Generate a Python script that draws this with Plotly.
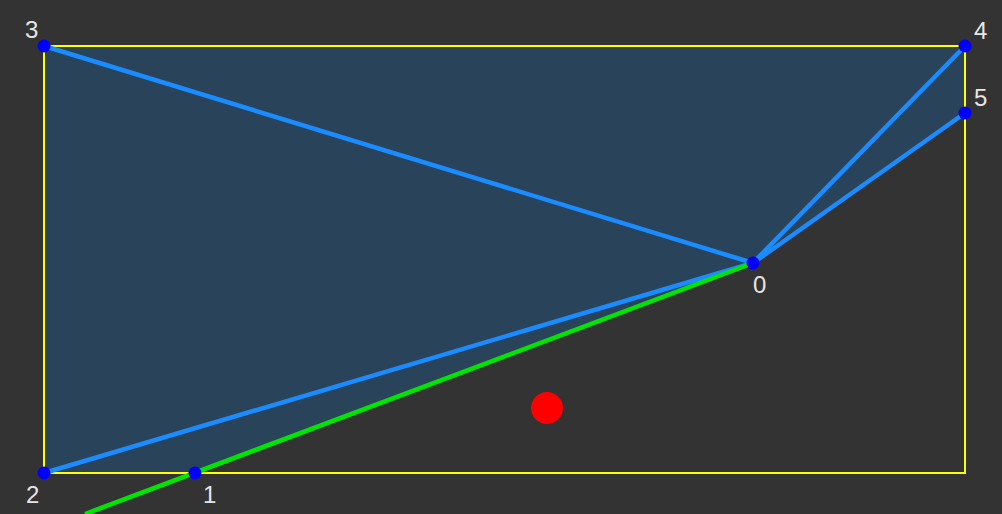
import plotly.graph_objects as go

# Vertex data (pixel-space coordinates of the scene)
vertex_ids = [0, 1, 2, 3, 4, 5]
vertex_x = [753, 195, 44, 44, 965, 965]
vertex_y = [263, 473, 473, 46, 46, 113]

# Bounding rectangle
rect_x = [44, 965]
rect_y = [46, 473]

# Green ray from vertex 0 through vertex 1 and beyond
ray_x = [753, 195, 85]
ray_y = [263, 473, 514]

# Red marker point
red_x = [547]
red_y = [408]

# Blue spokes from vertex 0
spokes = [3, 2, 4, 5]

# Label offsets (pixels)
label_dx = [6, 14, -12, -13, 15, 15]
label_dy = [21, 21, 21, -17, -16, -16]

fig = go.Figure()

# Filled polygon
fig.add_trace(go.Scatter(
    x=vertex_x + [vertex_x[0]], y=vertex_y + [vertex_y[0]],
    mode="lines", fill="toself", fillcolor="#29435A",
    line=dict(width=0), hoverinfo="skip", showlegend=False))

# Yellow rectangle
fig.add_trace(go.Scatter(
    x=[rect_x[0], rect_x[1], rect_x[1], rect_x[0], rect_x[0]],
    y=[rect_y[0], rect_y[0], rect_y[1], rect_y[1], rect_y[0]],
    mode="lines", line=dict(color="#FFFF00", width=2),
    hoverinfo="skip", showlegend=False))

# Blue spokes
for s in spokes:
    fig.add_trace(go.Scatter(
        x=[vertex_x[0], vertex_x[s]], y=[vertex_y[0], vertex_y[s]],
        mode="lines", line=dict(color="#1A8CFF", width=4.5),
        hoverinfo="skip", showlegend=False))

# Green ray
fig.add_trace(go.Scatter(
    x=ray_x, y=ray_y, mode="lines",
    line=dict(color="#00E600", width=4.5),
    hoverinfo="skip", showlegend=False))

# Vertex markers
fig.add_trace(go.Scatter(
    x=vertex_x, y=vertex_y, mode="markers",
    marker=dict(color="#0000FF", size=13, line=dict(width=0)),
    hoverinfo="skip", showlegend=False))

# Red point
fig.add_trace(go.Scatter(
    x=red_x, y=red_y, mode="markers",
    marker=dict(color="#FF0000", size=32, line=dict(width=0)),
    hoverinfo="skip", showlegend=False))

annotations = []
for i, vid in enumerate(vertex_ids):
    annotations.append(dict(
        x=vertex_x[i] + label_dx[i], y=vertex_y[i] + label_dy[i],
        xref="x", yref="y", text=str(vid), showarrow=False,
        font=dict(family="Liberation Sans", size=24, color="#E6E6E6")))

fig.update_layout(
    width=1002, height=514,
    margin=dict(l=0, r=0, t=0, b=0),
    paper_bgcolor="#333333", plot_bgcolor="#333333",
    xaxis=dict(range=[0, 1002], visible=False, fixedrange=True),
    yaxis=dict(range=[514, 0], visible=False, fixedrange=True),
    annotations=annotations,
)

fig.write_html(
    "out.html",
    config={"displayModeBar": False},
    post_script="document.body.style.margin='0';document.body.style.overflow='hidden';document.body.style.background='#333333';",
)
